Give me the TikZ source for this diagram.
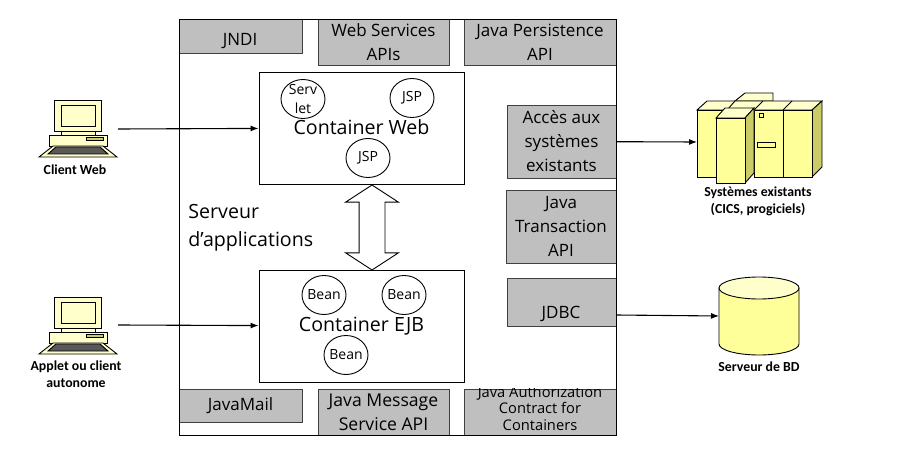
\documentclass[tikz,border=0pt]{standalone}
\usepackage{fontspec}
\setmainfont{Open Sans}
\newfontfamily\legende{Carlito}
\usetikzlibrary{shapes.geometric,shapes.arrows,arrows.meta}
\definecolor{gris}{HTML}{BFBFBF}
\definecolor{jaune}{HTML}{FFFF99}
\definecolor{clair}{HTML}{FFFFCC}
\definecolor{ombre}{HTML}{CCCC66}
\tikzset{
	poste/.pic={
		\draw[fill=clair] (0,0) rectangle (47,31);
		\draw[fill=clair] (7,5) rectangle (41,26);
		\draw[fill=clair] (7,31) rectangle (41,35);
		\draw[fill=clair] (-5,35) rectangle (53,46);
		\draw[fill=ombre] (32,37) rectangle (49,40);
		\draw[fill=clair] (-1,46) -- (49,46) -- (63,57) -- (-15,57) -- cycle;
		\draw[fill=black!65] (2,47) -- (46,47) -- (54,54) -- (-6,54) -- cycle;
	}
}
\begin{document}
\begin{tikzpicture}[x=1pt,y=-1pt,line width=0.9pt]
	\tikzstyle{grisbox}=[draw=black!75,line width=0.7pt,fill=gris,inner sep=0pt,align=center,font=\fontsize{17}{24}\selectfont]
	\tikzstyle{cadre}=[draw,fill=white,inner sep=0pt,align=center,font=\fontsize{19.6}{24}\selectfont]
	\tikzstyle{rond}=[draw,ellipse,inner xsep=-4pt,inner ysep=-6pt,minimum width=44pt,minimum height=39pt,align=center,font=\fontsize{14}{19}\selectfont]
	\tikzstyle{titre}=[inner sep=0pt,align=center,font=\legende\bfseries\fontsize{13.8}{17}\selectfont]
	\tikzstyle{fleche}=[-{Latex[length=8pt,width=6pt]},line width=1.1pt]
	\useasboundingbox (0,0) rectangle (899,473);
	\node[grisbox,minimum width=123pt,minimum height=34pt] (jndi) at (240.5,36) {};
	\node[inner sep=0pt,font=\fontsize{17}{24}\selectfont] (jnditxt) at (240,41) {JNDI};
	\node[grisbox,minimum width=131pt,minimum height=46pt] (ws) at (383.5,42) {Web Services\\APIs};
	\node[grisbox,minimum width=152pt,minimum height=46pt] (jpa) at (540,42) {Java Persistence\\API};
	\node[grisbox,minimum width=109pt,minimum height=73pt] (acces) at (561.5,141.5) {Accès aux\\systèmes\\existants};
	\node[grisbox,minimum width=110pt,minimum height=73pt] (jta) at (561,226.5) {Java\\Transaction\\API};
	\node[grisbox,minimum width=109pt,minimum height=48pt] (jdbc) at (561.5,302) {};
	\node[inner sep=0pt,font=\fontsize{17}{24}\selectfont] (jdbctxt) at (561,314) {JDBC};
	\node[grisbox,minimum width=123pt,minimum height=33pt] (javamail) at (240.5,405.5) {JavaMail};
	\node[grisbox,minimum width=131pt,minimum height=46pt,font=\fontsize{17.6}{24}\selectfont] (jms) at (383.5,412) {Java Message\\Service API};
	\node[grisbox,minimum width=152pt,minimum height=46pt] (jacc) at (540,412) {};
	\begin{scope}
		\clip (jacc.south west) rectangle (jacc.north east);
		\node[inner sep=0pt,align=center,font=\fontsize{14.7}{16.5}\selectfont] (jacctxt) at (540,408) {Java Authorization\\Contract for\\Containers};
	\end{scope}
	\node[draw,minimum width=437pt,minimum height=416pt,inner sep=0pt] (serveur) at (397.5,227) {};
	\node[cadre,minimum width=205pt,minimum height=112pt] (web) at (361.5,128) {\raisebox{2pt}{Container Web}};
	\node[cadre,minimum width=205pt,minimum height=112pt] (ejb) at (361.5,326) {\raisebox{1pt}{Container EJB}};
	\node[rond] (servlet) at (303,99) {Serv\\let};
	\node[rond] (jspa) at (412,98) {JSP};
	\node[rond] (jspb) at (368,158) {JSP};
	\node[rond] (beana) at (324,295) {Bean};
	\node[rond] (beanb) at (404,295) {Bean};
	\node[rond] (beanc) at (346,355) {Bean};
	\node[draw,double arrow,rotate=90,inner sep=12.5pt,minimum height=85pt,minimum width=52pt,double arrow head extend=13.5pt,double arrow tip angle=114] (echange) at (372,227.5) {};
	\node[inner sep=0pt,align=left,anchor=north west,font=\fontsize{19.6}{28}\selectfont] (appli) at (188,204) {Serveur\\d’applications};
	\pic at (54,100) {poste};
	\pic at (54,297) {poste};
	\node[titre] (clientweb) at (75,170) {Client Web};
	\node[titre] (applet) at (76,374) {Applet ou client\\autonome};
	\coordinate (sortiea) at (118,129);
	\coordinate (sortieb) at (118,325);
	\draw[fleche] (sortiea) -- (web);
	\draw[fleche] (sortieb) -- (ejb);
	% gros systemes
	\draw[fill=clair] (735,101) -- (745,93) -- (773,93) -- (773,101) -- cycle;
	\draw[fill=clair] (697,110) -- (707,101) -- (822,101) -- (812,110) -- cycle;
	\draw (727,110) -- (735,101);
	\draw (754,110) -- (763,101);
	\draw (783,110) -- (792,101);
	\draw[fill=ombre] (812,110) -- (822,101) -- (822,167) -- (812,177) -- cycle;
	\draw[fill=jaune] (697,110) rectangle (740,177);
	\draw[fill=jaune] (754,110) rectangle (783,177);
	\draw[fill=jaune] (783,110) rectangle (812,177);
	\draw[fill=jaune] (759,113) rectangle (763,117);
	\draw[fill=jaune] (757,142) rectangle (775,147);
	\draw[fill=clair] (716,118) -- (725,108) -- (754,108) -- (745,118) -- cycle;
	\draw[fill=ombre] (745,118) -- (754,108) -- (754,173) -- (745,183) -- cycle;
	\draw[fill=jaune] (716,118) rectangle (745,183);
	\node[titre] (systemes) at (758,201) {Systèmes existants\\(CICS, progiciels)};
	\coordinate (entreesys) at (697,142);
	\draw[fleche] (acces) -- (entreesys);
	% base de donnees
	\draw[fill=jaune] (719,288) -- (719,344) arc[start angle=180,end angle=360,x radius=40,y radius=-11] -- (799,288) -- cycle;
	\draw[fill=clair] (759,288) ellipse[x radius=40,y radius=11];
	\node[titre] (bd) at (759,367) {Serveur de BD};
	\coordinate (sortiejdbc) at (616,315);
	\coordinate (entreebd) at (719,316);
	\draw[fleche] (sortiejdbc) -- (entreebd);
\end{tikzpicture}
\end{document}
